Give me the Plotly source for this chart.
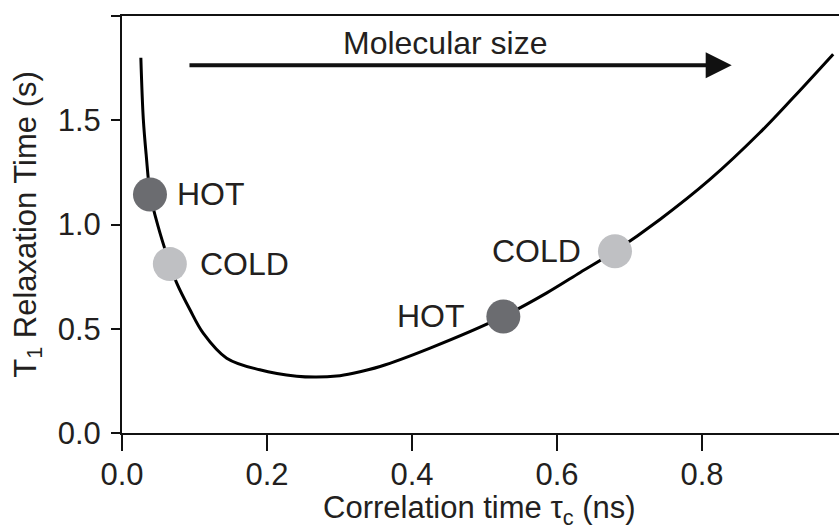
import plotly.graph_objects as go

# Curve: correlation time (ns) vs T1 (s)
tau_c = [0.026, 0.0294, 0.0335, 0.039, 0.0497, 0.066, 0.0754, 0.0938, 0.112, 0.1444,
         0.19, 0.241, 0.268, 0.296, 0.319, 0.356, 0.425, 0.526, 0.586, 0.632,
         0.68, 0.742, 0.811, 0.88, 0.926, 0.981]
t1 = [1.80, 1.505, 1.328, 1.144, 0.992, 0.81, 0.72, 0.591, 0.479, 0.359,
      0.303, 0.272, 0.268, 0.273, 0.287, 0.319, 0.407, 0.559, 0.672, 0.77,
      0.872, 1.024, 1.216, 1.441, 1.609, 1.817]

# Marked states
point_labels = ["HOT", "COLD", "HOT", "COLD"]
point_x = [0.0386, 0.066, 0.526, 0.680]
point_y = [1.144, 0.81, 0.559, 0.872]
point_kind = ["hot", "cold", "hot", "cold"]

x_ticks = [0.0, 0.2, 0.4, 0.6, 0.8]
y_ticks = [0.0, 0.5, 1.0, 1.5, 2.0]
y_ticktext = ["0.0", "0.5", "1.0", "1.5", ""]

x_title = "Correlation time τ<sub>c</sub> (ns)"
y_title = "T<sub>1</sub> Relaxation Time (s)"

arrow_text = "Molecular size"
arrow_start = 0.091
arrow_end = 0.841
arrow_y = 1.764

FONT = "Liberation Sans, Arial, sans-serif"
FS = 31
FA = 32
TXT = "#231f20"
colors = {"hot": "#6b6c70", "cold": "#bfc0c3"}

fig = go.Figure()
fig.add_trace(go.Scatter(
    x=tau_c, y=t1, mode="lines", line=dict(color="black", width=3, shape="spline", smoothing=1.0),
    hoverinfo="skip", showlegend=False))

fig.add_trace(go.Scatter(
    x=point_x, y=point_y, mode="markers",
    marker=dict(size=34, color=[colors[k] for k in point_kind], line=dict(width=0)),
    hoverinfo="skip", showlegend=False))

# text labels next to points (pixel offsets from the marker centre)
label_shift = [25, 28, -36, -32]
for lab, px, py, xs in zip(point_labels, point_x, point_y, label_shift):
    fig.add_annotation(x=px, y=py, text=lab, showarrow=False,
                       xanchor="left" if xs > 0 else "right",
                       xshift=xs, yshift=0,
                       font=dict(family=FONT, size=FA, color=TXT))

# molecular size arrow
fig.add_annotation(x=arrow_end, y=arrow_y, ax=arrow_start, ay=arrow_y,
                   xref="x", yref="y", axref="x", ayref="y",
                   showarrow=True, arrowhead=2, arrowsize=1.3, arrowwidth=4,
                   arrowcolor="#111111", text="")
fig.add_annotation(x=(arrow_start + arrow_end) / 2 - 0.02, y=arrow_y, text=arrow_text,
                   showarrow=False, yanchor="bottom", yshift=2,
                   font=dict(family=FONT, size=FA, color=TXT))

# x-axis title placed below the tick labels
fig.add_annotation(x=0.4993, y=-0.135, xref="paper", yref="paper", text=x_title,
                   showarrow=False, xanchor="center", yanchor="top", borderpad=0,
                   font=dict(family=FONT, size=FS, color=TXT))

fig.update_layout(
    width=839, height=531,
    margin=dict(l=122, r=0, t=16, b=98),
    plot_bgcolor="white", paper_bgcolor="white",
    font=dict(family=FONT, size=FS, color=TXT),
    xaxis=dict(range=[0, 0.989], tickvals=x_ticks, ticktext=[f"{v:.1f}" for v in x_ticks],
               showgrid=False, zeroline=False, showline=True, linecolor="#111111", linewidth=2,
               mirror=True, ticks="outside", ticklen=16, tickwidth=2, tickcolor="#111111",
               ticklabelstandoff=-3,
               tickfont=dict(family=FONT, size=FS, color=TXT)),
    yaxis=dict(range=[0, 2.0], tickvals=y_ticks, ticktext=y_ticktext,
               showgrid=False, zeroline=False, showline=True, linecolor="#111111", linewidth=2,
               ticks="outside", ticklen=9, tickwidth=2, tickcolor="#111111",
               ticklabelstandoff=4,
               tickfont=dict(family=FONT, size=FS, color=TXT),
               title=dict(text=y_title, standoff=12,
                          font=dict(family=FONT, size=FS, color=TXT))),
)

fig.write_html("out.html")
